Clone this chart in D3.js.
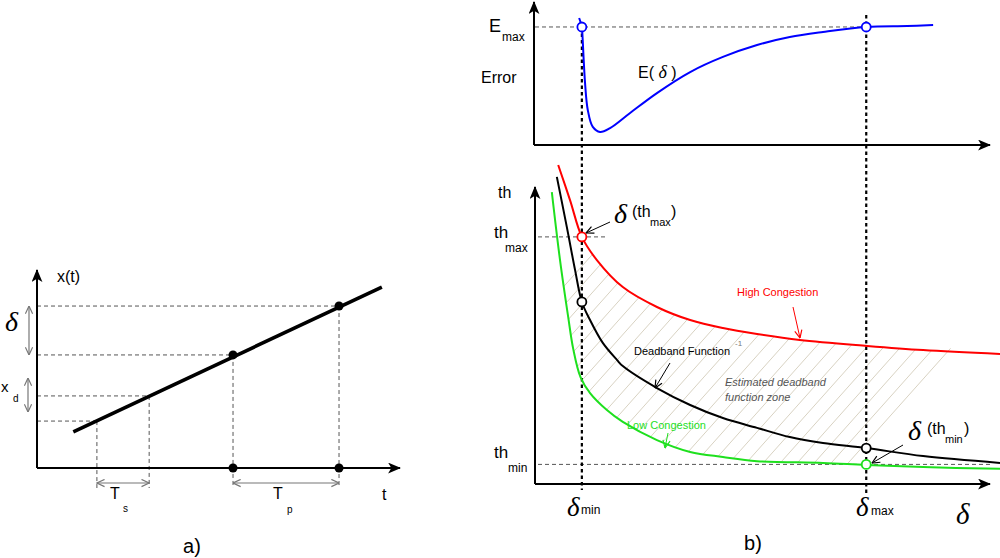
<!DOCTYPE html>
<html>
<head>
<meta charset="utf-8">
<script src="https://cdn.jsdelivr.net/npm/d3@7.9.0/dist/d3.min.js"></script>
<style>
  html, body { margin: 0; padding: 0; background: #fff; }
  svg { display: block; font-family: "Liberation Sans", Arial, sans-serif; }
  .greek { font-family: "Liberation Serif", "DejaVu Serif", serif; font-style: italic; }
</style>
</head>
<body>
<svg id="fig" width="1000" height="558"></svg>
<script>
// ---- panel a) : signal x(t) and its samples ----
const signalLine = [{ t: 1.0, x: 1.82 }, { t: 9.5, x: 9.14 }];
const sendPoints = [{ t: 5.4, x: 5.71 }, { t: 8.32, x: 8.18 }];   // Tp apart
const samplePoints = [{ t: 1.65, x: 2.37 }, { t: 3.09, x: 3.64 }]; // Ts apart

// ---- panel b) top : error E(delta) ----
const errorCurve = [
  [9.7, 90.7], [10.3, 84.3], [10.4, 80], [11.0, 44.3], [11.6, 25], [12.7, 12.9],
  [14.3, 9.3], [16.5, 12.1], [20.9, 22.9], [26.8, 37.1], [34.1, 52.1], [41.3, 62.9],
  [48.8, 71.4], [56.0, 77.1], [63.3, 80.7], [72.8, 84.3], [81.8, 85.0], [87.5, 85.7]
];
const deltaMin = 10.3;
const deltaMax = 72.8;
const errorMax = 84.3;

// ---- panel b) bottom : threshold vs delta ----
const highCongestion = [
  [5.1, 107.4], [7.7, 95.6], [10.3, 83.2], [13.6, 75.4], [19.3, 66.3], [26.8, 59.6],
  [34.1, 55.2], [41.3, 52.5], [48.8, 50.5], [58.2, 48.5], [73.0, 46.5], [85.3, 45.1], [102.2, 43.8]
];
const deadbandInverse = [
  [4.8, 103.4], [7.0, 86.5], [8.8, 72.1], [10.3, 61.3], [12.1, 55.2], [14.9, 47.5],
  [18.0, 41.8], [19.3, 39.7], [26.8, 32.3], [34.1, 26.6], [41.3, 22.2], [48.8, 18.9],
  [56.0, 15.8], [63.3, 13.8], [72.8, 12.1], [85.3, 9.4], [102.2, 7.1]
];
const lowCongestion = [
  [3.7, 98.3], [5.5, 75.4], [7.3, 56.2], [8.4, 45.5], [10.0, 36.0], [12.1, 30.6],
  [15.8, 24.9], [19.3, 20.9], [26.8, 14.8], [34.1, 10.8], [41.3, 9.1], [48.8, 7.7],
  [63.3, 7.1], [72.8, 6.4], [85.3, 5.7], [102.2, 5.1]
];
const thMax = 83.2;
const thMin = 6.6;

const RED = "#ff0000", GREEN = "#1ee01e", BLUE = "#0000ff";

const svg = d3.select("#fig");
const defs = svg.append("defs");

// solid arrow head for axes
defs.append("marker")
  .attr("id", "axisHead")
  .attr("viewBox", "0 0 12 10")
  .attr("refX", 11).attr("refY", 5)
  .attr("markerWidth", 13).attr("markerHeight", 11)
  .attr("markerUnits", "userSpaceOnUse")
  .attr("orient", "auto")
  .append("path")
  .attr("d", "M0,0 L12,5 L0,10 L3,5 Z")
  .attr("fill", "#000");

// open chevron heads (double arrows, annotations)
function chevron(id, color, size) {
  defs.append("marker")
    .attr("id", id)
    .attr("viewBox", "0 0 10 10")
    .attr("refX", 9.5).attr("refY", 5)
    .attr("markerWidth", size).attr("markerHeight", size)
    .attr("markerUnits", "userSpaceOnUse")
    .attr("orient", "auto-start-reverse")
    .append("path")
    .attr("d", "M1,1 L9.5,5 L1,9")
    .attr("fill", "none")
    .attr("stroke", color)
    .attr("stroke-width", 1.3);
}
chevron("grayHead", "#777", 9);
chevron("blackHead", "#000", 9);
chevron("redHead", RED, 9);
chevron("greenHead", GREEN, 9);

function line(g, x1, y1, x2, y2, attrs) {
  const l = g.append("line").attr("x1", x1).attr("y1", y1).attr("x2", x2).attr("y2", y2);
  Object.entries(attrs).forEach(([k, v]) => l.attr(k, v));
  return l;
}
function label(g, x, y, txt, size, extra = {}) {
  const t = g.append("text").attr("x", x).attr("y", y).attr("font-size", size).text(txt);
  Object.entries(extra).forEach(([k, v]) => t.attr(k, v));
  return t;
}
const dashed = { stroke: "#555", "stroke-width": 1, "stroke-dasharray": "4,3" };
const dotted = { stroke: "#000", "stroke-width": 2.2, "stroke-dasharray": "3.5,3" };

// ================= panel a) =================
const xA = d3.scaleLinear().domain([0, 10]).range([37, 400]);
const yA = d3.scaleLinear().domain([0, 10]).range([468, 270]);
const ga = svg.append("g");
const belowA = yA(0) + 20;

// guide lines
[...samplePoints, ...sendPoints].forEach(p => {
  line(ga, xA(0), yA(p.x), xA(p.t), yA(p.x), dashed);
  line(ga, xA(p.t), yA(p.x), xA(p.t), belowA, dashed);
});

// axes
line(ga, xA(0), yA(0), xA(10), yA(0), { stroke: "#000", "stroke-width": 2, "marker-end": "url(#axisHead)" });
line(ga, xA(0), yA(0), xA(0), yA(10), { stroke: "#000", "stroke-width": 2, "marker-end": "url(#axisHead)" });

// the signal
ga.append("path")
  .attr("d", d3.line().x(d => xA(d.t)).y(d => yA(d.x))(signalLine))
  .attr("stroke", "#000").attr("stroke-width", 3.6).attr("fill", "none");

// sent samples on the signal and on the time axis
ga.selectAll("circle.sig").data(sendPoints).join("circle")
  .attr("class", "sig").attr("cx", d => xA(d.t)).attr("cy", d => yA(d.x)).attr("r", 4.5).attr("fill", "#000");
ga.selectAll("circle.ax").data(sendPoints).join("circle")
  .attr("class", "ax").attr("cx", d => xA(d.t)).attr("cy", yA(0)).attr("r", 4.5).attr("fill", "#000");

// double arrows
const dbl = { stroke: "#777", "stroke-width": 1.2, "marker-start": "url(#grayHead)", "marker-end": "url(#grayHead)" };
line(ga, xA(samplePoints[0].t), yA(0) + 15, xA(samplePoints[1].t), yA(0) + 15, dbl);
line(ga, xA(sendPoints[0].t), yA(0) + 15, xA(sendPoints[1].t), yA(0) + 15, dbl);
line(ga, 29, yA(sendPoints[1].x), 29, yA(sendPoints[0].x), dbl);
line(ga, 28, 378, 28, 412, dbl);

label(ga, 57, 282, "x(t)", 16);
label(ga, 5, 331, "δ", 28, { class: "greek" });
label(ga, 1, 392, "x", 15);
label(ga, 13, 402, "d", 10);
label(ga, 110, 499, "T", 16);
label(ga, 123, 512, "s", 10);
label(ga, 273, 499, "T", 16);
label(ga, 287, 513, "p", 10);
label(ga, 382, 500, "t", 16);
label(ga, 192, 553, "a)", 20, { "text-anchor": "middle" });

// ================= panel b) =================
const xB = d3.scaleLinear().domain([0, 100]).range([535, 990]);
const yE = d3.scaleLinear().domain([0, 100]).range([145, 5]);
const yT = d3.scaleLinear().domain([0, 100]).range([484, 187]);
const gb = svg.append("g");
const curve = d3.curveCatmullRom.alpha(0.5);

// hatched estimation zone between the congestion curves
const zone = highCongestion.map(d => [xB(d[0]), yT(d[1])])
  .concat(lowCongestion.slice().reverse().map(d => [xB(d[0]), yT(d[1])]));
defs.append("clipPath").attr("id", "zoneClip")
  .append("path")
  .attr("d", d3.line().curve(d3.curveCatmullRomClosed)(zone));
const hatch = gb.append("g").attr("clip-path", "url(#zoneClip)");
d3.range(833, 380, -17).forEach(bx => {
  line(hatch, bx, 480, bx + 330 / 1.12, 150, { stroke: "#d8d2c2", "stroke-width": 1 });
});

// top panel guides
line(gb, xB(0), yE(errorMax), xB(deltaMax), yE(errorMax), dashed);
// bottom panel guides
line(gb, xB(0) + 3, yT(thMax), xB(deltaMin) + 26, yT(thMax), dashed);
line(gb, xB(0) + 3, yT(thMin), 993, yT(thMin), dashed);
// delta min / max verticals
line(gb, xB(deltaMin), yE(errorMax), xB(deltaMin), 490, dotted);
line(gb, xB(deltaMax), 15, xB(deltaMax), 494, dotted);

// axes
const axisAttr = { stroke: "#000", "stroke-width": 2, "marker-end": "url(#axisHead)" };
line(gb, xB(0) - 1, yE(0), xB(100), yE(0), axisAttr);
line(gb, xB(0) - 1, yE(0), xB(0) - 1, 2, axisAttr);
line(gb, xB(0), yT(0), xB(100), yT(0), axisAttr);
line(gb, xB(0), yT(0), xB(0), yT(100), axisAttr);

// curves
const drawCurve = (data, y, color) => gb.append("path")
  .attr("d", d3.line().curve(curve).x(d => xB(d[0])).y(d => y(d[1]))(data))
  .attr("fill", "none").attr("stroke", color).attr("stroke-width", 2);
drawCurve(errorCurve, yE, BLUE);
drawCurve(highCongestion, yT, RED);
drawCurve(deadbandInverse, yT, "#000");
drawCurve(lowCongestion, yT, GREEN);

// marked points
const openDot = (cx, cy, color) => gb.append("circle")
  .attr("cx", cx).attr("cy", cy).attr("r", 4.5)
  .attr("fill", "#fff").attr("stroke", color).attr("stroke-width", 1.8);
openDot(xB(deltaMin), yE(errorMax), BLUE);
openDot(xB(deltaMax), yE(errorMax), BLUE);
openDot(xB(deltaMin), yT(thMax), RED);
openDot(xB(deltaMin), yT(61.3), "#000");
openDot(xB(deltaMax), yT(12.1), "#000");
openDot(xB(deltaMax), yT(thMin), GREEN);

// annotation arrows
const ann = (x1, y1, x2, y2, color, head) =>
  line(gb, x1, y1, x2, y2, { stroke: color, "stroke-width": 1, "marker-end": `url(#${head})` });
ann(610, 222, 586, 233, "#000", "blackHead");
ann(903, 445, 872, 463, "#000", "blackHead");
ann(793, 307, 800, 338, RED, "redHead");
ann(670, 363, 655, 388, "#000", "blackHead");
ann(668, 433, 665, 448, GREEN, "greenHead");

// labels, top panel
label(gb, 489, 32, "E", 18);
label(gb, 502, 41, "max", 12);
label(gb, 481, 83, "Error", 16);
const eLab = label(gb, 638, 78, "E( ", 16);
eLab.append("tspan").attr("class", "greek").attr("font-size", 18).text("δ");
eLab.append("tspan").text(" )");

// labels, bottom panel
label(gb, 498, 198, "th", 16);
label(gb, 494, 238, "th", 17);
label(gb, 505, 252, "max", 12);
label(gb, 494, 458, "th", 17);
label(gb, 508, 472, "min", 12);

label(gb, 614, 223, "δ", 28, { class: "greek" });
label(gb, 632, 217, "(th", 16);
label(gb, 650, 226, "max", 11);
label(gb, 671, 217, ")", 16);

label(gb, 908, 440, "δ", 28, { class: "greek" });
label(gb, 927, 434, "(th", 16);
label(gb, 945, 443, "min", 11);
label(gb, 964, 434, ")", 16);

label(gb, 567, 516, "δ", 27, { class: "greek" });
label(gb, 581, 514, "min", 12);
label(gb, 856, 516, "δ", 27, { class: "greek" });
label(gb, 871, 515, "max", 12);
label(gb, 956, 524, "δ", 29, { class: "greek" });
label(gb, 753, 550, "b)", 20, { "text-anchor": "middle" });

label(gb, 737, 296, "High Congestion", 11, { fill: RED });
label(gb, 634, 355, "Deadband Function", 11);
label(gb, 735, 346, "-1", 8, { fill: "#777" });
label(gb, 725, 386, "Estimated deadband", 11, { fill: "#555", "font-style": "italic" });
label(gb, 725, 401, "function zone", 11, { fill: "#555", "font-style": "italic" });
label(gb, 627, 429, "Low Congestion", 11, { fill: GREEN });
</script>
</body>
</html>
